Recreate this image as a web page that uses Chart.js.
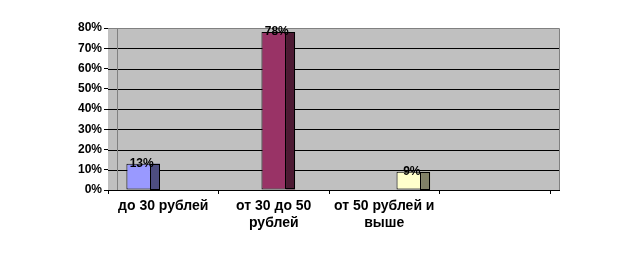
<!DOCTYPE html>
<html>
<head>
<meta charset="utf-8">
<script src="https://cdn.jsdelivr.net/npm/chart.js@4/dist/chart.umd.min.js"></script>
<style>
html,body{margin:0;padding:0;background:#fff;}
canvas{display:block;}
</style>
</head>
<body>
<canvas id="c" width="634" height="253"></canvas>
<script>
const categories = [["до 30 рублей"], ["от 30 до 50", "рублей"], ["от 50 рублей и", "выше"], [""]];
const values = [13, 78, 9];
const frontColors = ["#9999FF", "#993366", "#FFFFCC"];
const sideColors = ["#4D4D80", "#4D1A33", "#808066"];
const yTicks = [0, 10, 20, 30, 40, 50, 60, 70, 80];

const DEPTH = 9;

const datasets = values.map((v, i) => ({
  label: "s" + i,
  data: categories.map((_, j) => (j === i ? v : null)),
  backgroundColor: frontColors[i],
  borderColor: "#000",
  borderWidth: 1,
  borderSkipped: false
}));

const wallPlugin = {
  id: "wall",
  beforeDatasetsDraw(chart) {
    const { ctx, chartArea: a, scales } = chart;
    const y = scales.y;
    ctx.save();
    ctx.fillStyle = "#C0C0C0";
    ctx.fillRect(a.left, a.top, a.right + DEPTH - a.left, a.bottom - a.top);
    // gridlines
    ctx.lineWidth = 1;
    ctx.strokeStyle = "#000";
    yTicks.forEach(t => {
      if (t === 0 || t === yTicks[yTicks.length - 1]) return;
      const py = Math.round(y.getPixelForValue(t)) + 0.5;
      ctx.beginPath();
      ctx.moveTo(a.left, py);
      ctx.lineTo(a.right + DEPTH, py);
      ctx.stroke();
    });
    // wall border
    ctx.strokeStyle = "#808080";
    const top = Math.round(a.top) + 0.5;
    ctx.beginPath();
    ctx.moveTo(a.left, top);
    ctx.lineTo(a.right + DEPTH + 0.5, top);
    ctx.lineTo(a.right + DEPTH + 0.5, a.bottom);
    ctx.stroke();
    // left wall edge
    ctx.beginPath();
    ctx.moveTo(Math.round(a.left + DEPTH) + 0.5, top);
    ctx.lineTo(Math.round(a.left + DEPTH) + 0.5, a.bottom);
    ctx.stroke();
    // base line extension
    ctx.strokeStyle = "#000";
    const by = Math.round(a.bottom) + 0.5;
    ctx.beginPath();
    ctx.moveTo(a.left, by);
    ctx.lineTo(a.right + DEPTH + 1, by);
    ctx.stroke();
    ctx.restore();
  },
  afterDatasetsDraw(chart) {
    const { ctx } = chart;
    ctx.save();
    chart.data.datasets.forEach((ds, i) => {
      const meta = chart.getDatasetMeta(i);
      meta.data.forEach((el, j) => {
        if (ds.data[j] == null) return;
        const right = el.x + el.width / 2;
        ctx.fillStyle = sideColors[i];
        ctx.fillRect(right, el.y, DEPTH, el.base - el.y);
        ctx.strokeStyle = "#000";
        ctx.lineWidth = 1;
        ctx.strokeRect(Math.round(right) - 0.5, Math.round(el.y) + 0.5, DEPTH, Math.round(el.base - el.y) - 1);
      });
    });
    // labels
    ctx.font = "bold 12px 'Liberation Sans', Arial, sans-serif";
    ctx.fillStyle = "#000";
    ctx.textAlign = "center";
    ctx.textBaseline = "middle";
    chart.data.datasets.forEach((ds, i) => {
      const meta = chart.getDatasetMeta(i);
      meta.data.forEach((el, j) => {
        if (ds.data[j] == null) return;
        ctx.fillText(ds.data[j] + "%", el.x + 3, el.y);
      });
    });
    ctx.restore();
  }
};

new Chart(document.getElementById("c"), {
  type: "bar",
  data: { labels: categories, datasets },
  options: {
    responsive: false,
    animation: false,
    devicePixelRatio: 1,
    layout: { padding: { left: 0, right: 84, top: 28, bottom: 0 } },
    plugins: { legend: { display: false }, tooltip: { enabled: false } },
    datasets: { bar: { categoryPercentage: 3 / 4.5, barPercentage: 1, grouped: true } },
    scales: {
      x: {
        offset: true,
        grid: { display: true, offset: true, drawOnChartArea: false, tickLength: 4, color: "#000" },
        border: { display: true, color: "#000" },
        ticks: {
          color: "#000",
          padding: 4,
          maxRotation: 0,
          autoSkip: false,
          font: { family: "'Liberation Sans', Arial, sans-serif", size: 14, weight: "bold", lineHeight: 1.2 }
        },
        afterFit(s) { s.height = 63; }
      },
      y: {
        min: 0,
        max: 80,
        afterBuildTicks(s) { s.ticks = yTicks.map(v => ({ value: v })); },
        grid: { display: true, drawOnChartArea: false, tickLength: 4, color: "#000" },
        border: { display: true, color: "#000" },
        ticks: {
          color: "#000",
          padding: 2,
          callback: v => v + "%",
          font: { family: "'Liberation Sans', Arial, sans-serif", size: 12, weight: "bold" }
        },
        afterFit(s) { s.width = 108; }
      }
    }
  },
  plugins: [wallPlugin]
});
</script>
</body>
</html>
